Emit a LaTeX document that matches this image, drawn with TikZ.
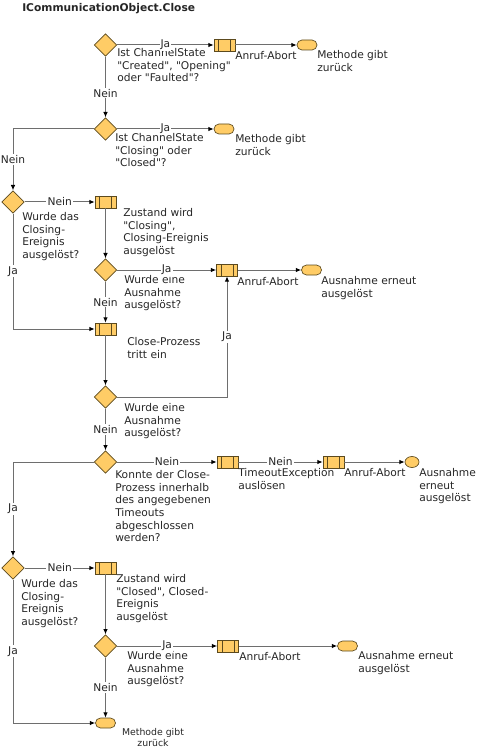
\documentclass[tikz,border=0pt]{standalone}
\usepackage{fontspec}
\setmainfont{DejaVu Sans}[Ligatures=TeXOff]
\usetikzlibrary{arrows.meta,shapes.geometric}
\definecolor{boxfill}{HTML}{FFCC66}
\definecolor{boxline}{HTML}{5C4A1E}
\definecolor{flowgray}{HTML}{6E6E6E}
\definecolor{txtgray}{HTML}{262626}
\tikzset{
  dec/.style  ={draw=boxline, diamond, aspect=1, minimum size=17pt,
                inner sep=0pt, fill=boxfill, line width=0.5pt},
  proc/.style ={draw=boxline, rectangle, minimum width=15.75pt,
                minimum height=9pt, inner sep=0pt, fill=boxfill,
                line width=0.5pt,
                path picture={\draw[boxline, line width=0.5pt]
                  ([xshift=3.3pt]path picture bounding box.north west) --
                  ([xshift=3.3pt]path picture bounding box.south west)
                  ([xshift=-3.3pt]path picture bounding box.north east) --
                  ([xshift=-3.3pt]path picture bounding box.south east);}},
  term/.style ={draw=boxline, rectangle, rounded corners=3.75pt,
                minimum width=15pt, minimum height=7.5pt, inner sep=0pt,
                fill=boxfill, line width=0.5pt},
  termc/.style={draw=boxline, ellipse, minimum width=10.5pt,
                minimum height=8.25pt, inner sep=0pt, fill=boxfill,
                line width=0.5pt},
  flow/.style ={-{Latex[length=4pt, width=3.5pt, color=black]},
                line width=0.75pt, flowgray},
  elbl/.style ={font=\fontsize{8}{9.5}\selectfont, text=txtgray,
                fill=white, inner sep=0.8pt},
  desc/.style ={font=\fontsize{8}{9.5}\selectfont, text=txtgray,
                align=left, inner sep=0pt, anchor=north west},
}
\begin{document}
\begin{tikzpicture}[x=0.75pt, y=-0.75pt]
  \useasboundingbox (0,0) rectangle (478,752);
  \node[font=\fontsize{8}{10}\selectfont\bfseries, text=txtgray,
        anchor=base west, inner sep=0pt] (title) at (22,12)
        {ICommunicationObject.Close};
  % state checks
  \node[dec]  (d1) at (105.5,45)  {};
  \node[proc] (p1) at (224.5,45)  {};
  \node[term] (t1) at (307,45)    {};
  \node[desc] at (117,48)  {Ist ChannelState\\"Created", "Opening"\\oder "Faulted"?};
  \node[desc] at (235,51)  {Anruf-Abort};
  \node[desc] at (317,50)  {Methode gibt\\zurück};
  \node[dec]  (d2) at (105.5,129) {};
  \node[term] (t2) at (224,129)   {};
  \node[desc] at (115,133) {Ist ChannelState\\"Closing" oder\\"Closed"?};
  \node[desc] at (235,134) {Methode gibt\\zurück};
  % closing
  \node[dec]  (d3) at (13,202)    {};
  \node[proc] (p2) at (105.5,202) {};
  \node[desc] at (22,212)  {Wurde das\\Closing-\\Ereignis\\ausgelöst?};
  \node[desc] at (123,208) {Zustand wird\\"Closing",\\Closing-Ereignis\\ausgelöst};
  \node[dec]  (d4) at (105.5,270) {};
  \node[proc] (p3) at (227,270)   {};
  \node[term] (t3) at (311.5,270) {};
  \node[desc] at (124,275) {Wurde eine\\Ausnahme\\ausgelöst?};
  \node[desc] at (237,277) {Anruf-Abort};
  \node[desc] at (321,276) {Ausnahme erneut\\ausgelöst};
  \node[proc] (p4) at (105.5,329) {};
  \node[desc] at (127,337) {Close-Prozess\\tritt ein};
  \node[dec]  (d5) at (105.5,397) {};
  \node[desc] at (124,403) {Wurde eine\\Ausnahme\\ausgelöst?};
  % timeout
  \node[dec]   (d6) at (105.5,462) {};
  \node[proc]  (p5) at (227.5,462) {};
  \node[proc]  (p6) at (333.5,462) {};
  \node[termc] (t4) at (412,462)   {};
  \node[desc] at (115,470) {Konnte der Close-\\Prozess innerhalb\\des angegebenen\\Timeouts\\abgeschlossen\\werden?};
  \node[desc] at (238,468) {TimeoutException\\auslösen};
  \node[desc] at (344,468) {Anruf-Abort};
  \node[desc] at (419,468) {Ausnahme\\erneut\\ausgelöst};
  % closed
  \node[dec]  (d7) at (13,568)    {};
  \node[proc] (p7) at (105.5,568) {};
  \node[desc] at (21,579)  {Wurde das\\Closing-\\Ereignis\\ausgelöst?};
  \node[desc] at (116,574) {Zustand wird\\"Closed", Closed-\\Ereignis\\ausgelöst};
  \node[dec]  (d8) at (105.5,646) {};
  \node[proc] (p8) at (228,646)   {};
  \node[term] (t5) at (347.5,646) {};
  \node[desc] at (127,651) {Wurde eine\\Ausnahme\\ausgelöst?};
  \node[desc] at (239,652) {Anruf-Abort};
  \node[desc] at (358,651) {Ausnahme erneut\\ausgelöst};
  \node[term] (t6) at (105.5,723) {};
  \node[desc, font=\fontsize{7}{8.5}\selectfont, align=center, anchor=north]
    at (153,728) {Methode gibt\\zurück};
  % connectors
  \draw[flow] (d1) -- node[elbl]{Ja} (p1);
  \draw[flow] (p1) -- (t1);
  \draw[flow] (d1) -- node[elbl, pos=0.6]{Nein} (d2);
  \draw[flow] (d2) -- node[elbl]{Ja} (t2);
  \draw[flow] (d2) -| node[elbl, pos=0.75]{Nein} (d3);
  \draw[flow] (d3) -- node[elbl]{Nein} (p2);
  \draw[flow] (p2) -- (d4);
  \draw[flow] (d4) -- node[elbl]{Ja} (p3);
  \draw[flow] (p3) -- (t3);
  \draw[flow] (d4) -- node[elbl]{Nein} (p4);
  \draw[flow] (d3) |- node[elbl, pos=0.25]{Ja} (p4);
  \draw[flow] (p4) -- (d5);
  \draw[flow] (d5) -| node[elbl, pos=0.75]{Ja} (p3);
  \draw[flow] (d5) -- node[elbl]{Nein} (d6);
  \draw[flow] (d6) -- node[elbl]{Nein} (p5);
  \draw[flow] (p5) -- node[elbl]{Nein} (p6);
  \draw[flow] (p6) -- (t4);
  \draw[flow] (d6) -| node[elbl, pos=0.75]{Ja} (d7);
  \draw[flow] (d7) -- node[elbl]{Nein} (p7);
  \draw[flow] (p7) -- (d8);
  \draw[flow] (d8) -- node[elbl]{Ja} (p8);
  \draw[flow] (p8) -- (t5);
  \draw[flow] (d8) -- node[elbl]{Nein} (t6);
  \draw[flow] (d7) |- node[elbl, pos=0.25]{Ja} (t6);
\end{tikzpicture}
\end{document}
